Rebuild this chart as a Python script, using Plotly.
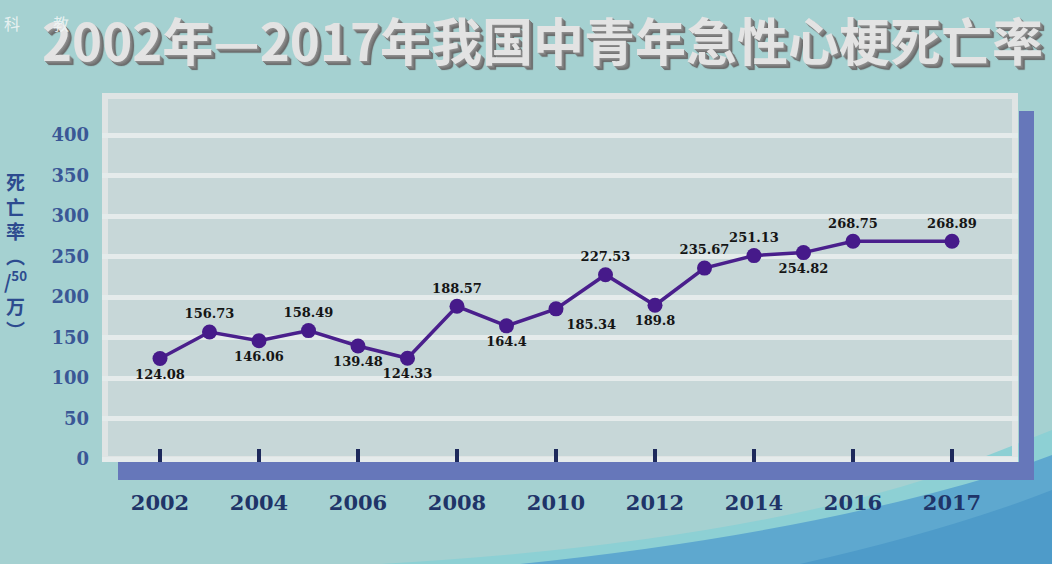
import plotly.graph_objects as go

# ---------------- data ----------------
years = [str(y) for y in range(2002, 2018)]
rates = [124.08, 156.73, 146.06, 158.49, 139.48, 124.33, 188.57, 164.4,
         185.34, 227.53, 189.8, 235.67, 251.13, 254.82, 268.75, 268.89]
label_positions = ["bottom center", "top center", "bottom center", "top center",
                   "bottom center", "bottom center", "top center", "bottom center",
                   "bottom right", "top center", "bottom center", "top center",
                   "top center", "bottom center", "top center", "top center"]
x_tick_labels = ["2002", "2004", "2006", "2008", "2010", "2012", "2014", "2016", "2017"]
# the original axis leaves one empty slot between 2016 and 2017
axis_slots = years[:-1] + ["gap"] + ["2017"]
y_tick_values = [0, 50, 100, 150, 200, 250, 300, 350, 400]
title_text = "2002年—2017年我国中青年急性心梗死亡率"
y_title_text = "死<br>亡<br>率<br>︵<br>/<sup>50</sup><br>万<br>︶"

# ---------------- layout geometry helpers (pixel -> paper) ----------------
W, H = 1052, 564
L, R, T, B = 102, 1018, 93, 462
PW, PH = R - L, B - T


def px(x):
    return (x - L) / PW


def py(y):
    return (B - y) / PH


BG = "#a5d1d1"
PANEL = "#c7d7d8"
GRID = "#e5ebeb"
BORDER = "#dfe4e4"
BAR = "#6677ba"
NAVY = "#1f3468"
AXIS_BLUE = "#3a5796"
PURPLE = "#4a1f8c"

fig = go.Figure()

fig.add_trace(go.Scatter(
    x=years, y=rates,
    mode="lines+markers+text",
    line=dict(color=PURPLE, width=3.5),
    marker=dict(size=15, color="#461a8a"),
    text=[str(v) for v in rates],
    textposition=label_positions,
    textfont=dict(family="DejaVu Serif", size=13, weight="bold", color="#151515"),
    cliponaxis=False,
    hoverinfo="skip",
))

shapes = []
# background decorative regions (bottom right)
shapes.append(dict(
    type="path", xref="paper", yref="paper", layer="below",
    path=(f"M {px(380)},{py(564)} Q {px(720)},{py(545)} {px(930)},{py(478)} "
          f"L {px(1052)},{py(430)} L {px(1052)},{py(564)} Z"),
    fillcolor="#8dd0d4", line=dict(width=0)))
shapes.append(dict(
    type="path", xref="paper", yref="paper", layer="below",
    path=(f"M {px(520)},{py(564)} Q {px(800)},{py(535)} {px(1000)},{py(474)} "
          f"L {px(1052)},{py(455)} L {px(1052)},{py(564)} Z"),
    fillcolor="#5ea8cf", line=dict(width=0)))
shapes.append(dict(
    type="path", xref="paper", yref="paper", layer="below",
    path=(f"M {px(800)},{py(564)} Q {px(950)},{py(530)} {px(1052)},{py(490)} "
          f"L {px(1052)},{py(564)} Z"),
    fillcolor="#4e9bc9", line=dict(width=0)))
# 3D base bars
shapes.append(dict(type="rect", xref="paper", yref="paper", layer="below",
                   x0=px(118), x1=px(1034), y0=py(480), y1=py(462),
                   fillcolor=BAR, line=dict(width=0)))
shapes.append(dict(type="rect", xref="paper", yref="paper", layer="below",
                   x0=px(1019), x1=px(1034), y0=py(480), y1=py(111),
                   fillcolor=BAR, line=dict(width=0)))
# panel border
shapes.append(dict(type="rect", xref="paper", yref="paper", layer="between",
                   x0=px(105), x1=px(1015), y0=py(459), y1=py(96),
                   fillcolor="rgba(0,0,0,0)", line=dict(color=BORDER, width=6)))

annotations = []
annotations.append(dict(
    x=px(542), y=py(39), xref="paper", yref="paper", showarrow=False,
    text=title_text, xanchor="center", yanchor="middle", borderpad=0,
    font=dict(family="Noto Sans CJK SC", size=51, weight="bold", color="#e3e3e3",
              shadow="1px 1px 0 #8c8c8c, 2px 2px 0 #808080, 3px 3px 0 #747474, 4px 4px 1px #666666")))
# channel watermark
annotations.append(dict(x=px(52), y=py(10), xref="paper", yref="paper", showarrow=False,
                        text="教", borderpad=0,
                        font=dict(family="Noto Sans CJK SC", size=16,
                                  color="rgba(240,245,245,0.9)")))
annotations.append(dict(x=px(3), y=py(10), xref="paper", yref="paper", showarrow=False,
                        text="科", borderpad=0,
                        font=dict(family="Noto Sans CJK SC", size=16,
                                  color="rgba(240,245,245,0.9)")))
# vertical y-axis title
annotations.append(dict(x=px(15), y=py(256), xref="paper", yref="paper", showarrow=False,
                        text=y_title_text, xanchor="center", yanchor="middle", align="center",
                        font=dict(family="Noto Sans CJK SC", size=19, weight="bold",
                                  color="#2d4b8f")))

fig.update_layout(
    width=W, height=H,
    margin=dict(l=L, r=W - R, t=T, b=H - B),
    paper_bgcolor=BG, plot_bgcolor=PANEL,
    showlegend=False,
    shapes=shapes, annotations=annotations,
    xaxis=dict(
        type="category", categoryorder="array", categoryarray=axis_slots,
        range=[-58 / 49.5, -58 / 49.5 + PW / 49.5],
        tickmode="array", tickvals=x_tick_labels, ticktext=x_tick_labels,
        ticks="inside", ticklen=13, tickwidth=4, tickcolor="#1e2a5c",
        tickfont=dict(family="DejaVu Serif", size=21, weight="bold", color=NAVY),
        ticklabelstandoff=26,
        showgrid=False, zeroline=False, showline=False, fixedrange=True,
    ),
    yaxis=dict(
        range=[-3 / 0.81, (459 - T) / 0.81],
        tickmode="array", tickvals=y_tick_values,
        ticks="", ticklabelstandoff=12,
        tickfont=dict(family="DejaVu Serif", size=18, weight="bold", color=AXIS_BLUE),
        showgrid=True, gridcolor=GRID, gridwidth=5,
        zeroline=False, showline=False, fixedrange=True,
    ),
)

fig.write_html("out.html")
